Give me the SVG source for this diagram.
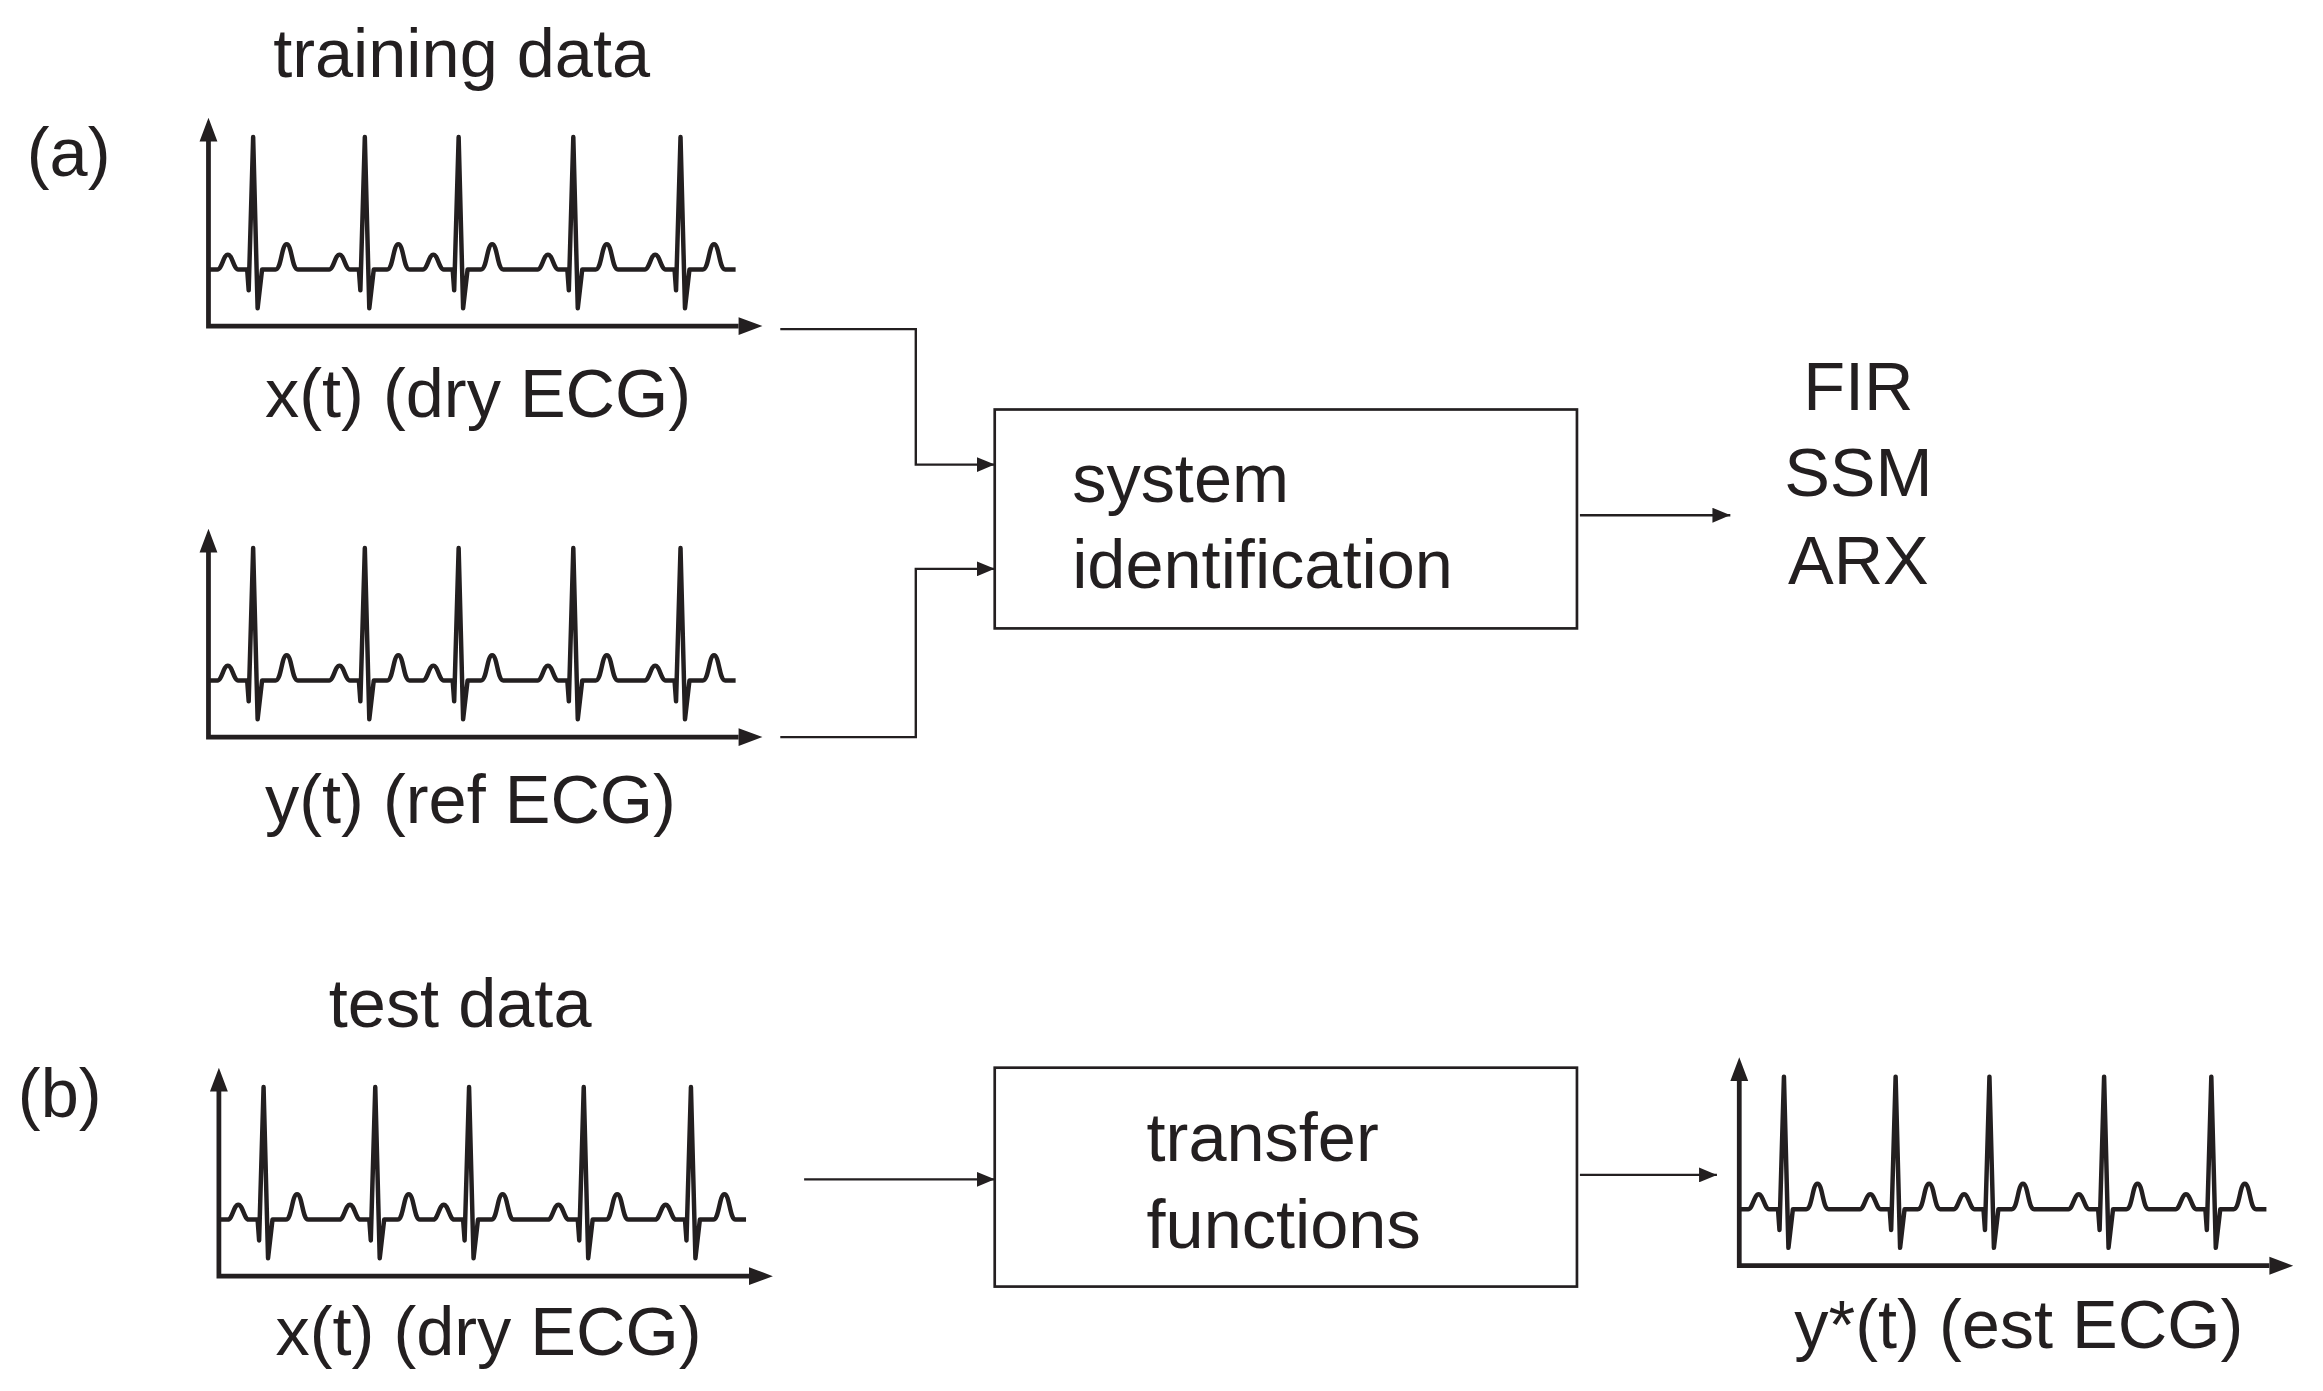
<svg xmlns="http://www.w3.org/2000/svg" width="2323" height="1391" viewBox="0 0 2323 1391">
<style>
text{font-family:"Liberation Sans",Arial,sans-serif;font-size:46px;fill:#231f20}
.ax{fill:none;stroke:#231f20;stroke-width:3.2}
.sig{fill:none;stroke:#231f20;stroke-width:3;stroke-linejoin:round}
.con{fill:none;stroke:#231f20;stroke-width:1.6}
.box{fill:#fff;stroke:#231f20;stroke-width:1.8}
</style>
<defs>
<marker id="ah" markerWidth="12" markerHeight="10" refX="12" refY="5" orient="auto" markerUnits="userSpaceOnUse"><path d="M0,0L12,5L0,10z" fill="#231f20"/></marker>
<g id="ecg">
<path class="ax" d="M0,-127V0H356"/>
<path d="M-6,-124L0,-140L6,-124z M356,-6L372,0L356,6z" fill="#231f20"/>
<path class="sig" d="M0,-38 H6 c3,0 4,-10 7,-10 c3,0 4,10 7,10 h6 l1,14 l3,-103 l3,115 l3,-26 h9 c4,0 4,-17 7.5,-17 c3.5,0 3.5,17 7.5,17 H81 c3,0 4,-10 7,-10 c3,0 4,10 7,10 h6 l1,14 l3,-103 l3,115 l3,-26 h9 c4,0 4,-17 7.5,-17 c3.5,0 3.5,17 7.5,17 H144 c3,0 4,-10 7,-10 c3,0 4,10 7,10 h6 l1,14 l3,-103 l3,115 l3,-26 h9 c4,0 4,-17 7.5,-17 c3.5,0 3.5,17 7.5,17 H221 c3,0 4,-10 7,-10 c3,0 4,10 7,10 h6 l1,14 l3,-103 l3,115 l3,-26 h9 c4,0 4,-17 7.5,-17 c3.5,0 3.5,17 7.5,17 H293 c3,0 4,-10 7,-10 c3,0 4,10 7,10 h6 l1,14 l3,-103 l3,115 l3,-26 h9 c4,0 4,-17 7.5,-17 c3.5,0 3.5,17 7.5,17 H354"/>
</g>
</defs>
<g transform="scale(1.4891)">
<g id="connectors">
<path class="con" d="M524,221H615V312H668" marker-end="url(#ah)"/>
<path class="con" d="M524,495H615V382H668" marker-end="url(#ah)"/>
<path class="con" d="M1061,346H1162" marker-end="url(#ah)"/>
<path class="con" d="M540,792H668" marker-end="url(#ah)"/>
<path class="con" d="M1061,789H1153" marker-end="url(#ah)"/>
</g>
<g id="panel-a">
<text x="18" y="118">(a)</text>
<text x="310" y="52" text-anchor="middle">training data</text>
</g>
<g id="signal-x-train"><use href="#ecg" transform="translate(140,219)"/><text x="178" y="280">x(t) (dry ECG)</text></g>
<g id="signal-y-train"><use href="#ecg" transform="translate(140,495)"/><text x="178" y="553">y(t) (ref ECG)</text></g>
<g id="sysid"><rect class="box" x="668" y="275" width="391" height="147"/><text x="720" y="337">system</text><text x="720" y="395">identification</text></g>
<g id="models"><text x="1248" y="275" text-anchor="middle">FIR</text><text x="1248" y="333" text-anchor="middle">SSM</text><text x="1248" y="392" text-anchor="middle">ARX</text></g>
<g id="panel-b">
<text x="12" y="750">(b)</text>
<text x="309" y="690" text-anchor="middle">test data</text>
</g>
<g id="signal-x-test"><use href="#ecg" transform="translate(147,857)"/><text x="185" y="910">x(t) (dry ECG)</text></g>
<g id="tf"><rect class="box" x="668" y="717" width="391" height="147"/><text x="770" y="780">transfer</text><text x="770" y="838">functions</text></g>
<g id="signal-y-est"><use href="#ecg" transform="translate(1168,850)"/><text x="1205" y="905">y*(t) (est ECG)</text></g>
</g>
</svg>
